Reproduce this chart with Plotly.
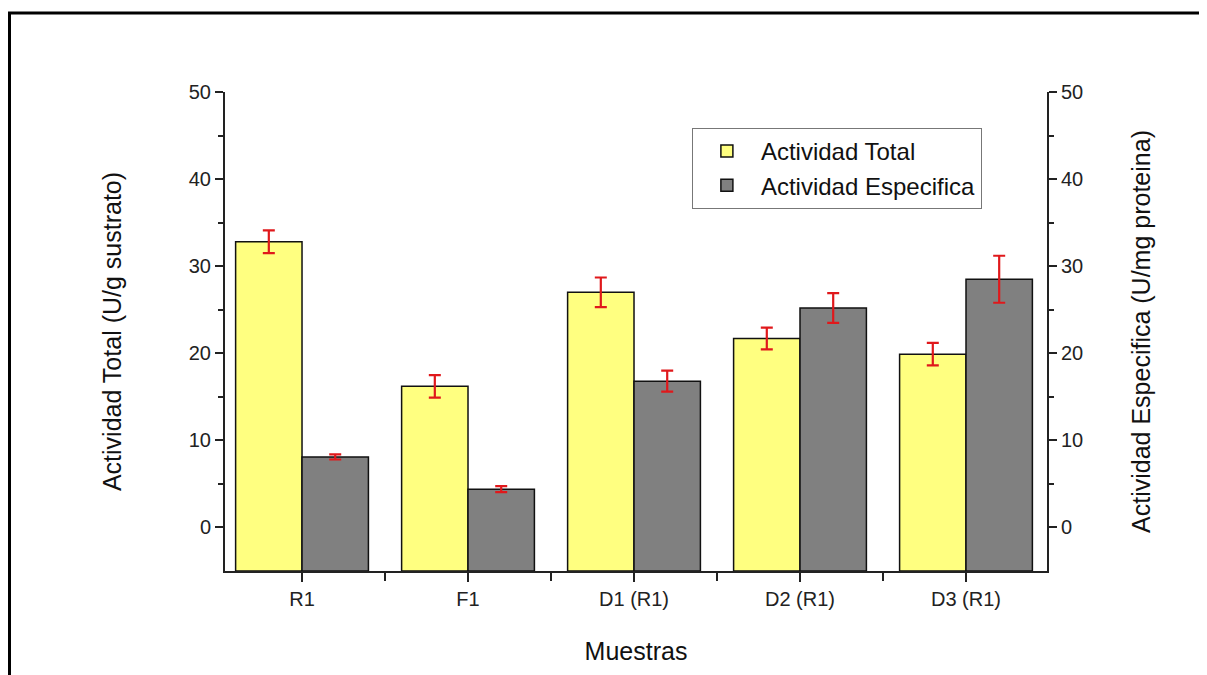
import plotly.graph_objects as go

categories = ["R1", "F1", "D1 (R1)", "D2 (R1)", "D3 (R1)"]
actividad_total = [32.8, 16.2, 27.0, 21.7, 19.9]
error_total = [1.3, 1.3, 1.7, 1.25, 1.3]
actividad_especifica = [8.1, 4.4, 16.8, 25.2, 28.5]
error_especifica = [0.3, 0.35, 1.2, 1.7, 2.7]
y_ticks = [0, 10, 20, 30, 40, 50]

Y_MIN, Y_MAX = -5, 50
xpos = list(range(len(categories)))
FONT = "Liberation Sans, Arial, sans-serif"
AXIS_COLOR = "#222222"

# page body has an 8px margin; size the figure to fit the window
W, H = 1199, 667
L, T, PW, PH = 217, 84, 822, 479

fig = go.Figure()
fig.add_trace(go.Bar(
    name="Actividad Total", x=xpos,
    y=[v - Y_MIN for v in actividad_total], base=Y_MIN,
    marker=dict(color="#FFFF80", line=dict(color="#111111", width=1.5)),
    error_y=dict(type="data", array=error_total, color="#E0181B", thickness=2.2, width=6),
    offsetgroup="a", yaxis="y",
))
fig.add_trace(go.Bar(
    name="Actividad Especifica", x=xpos,
    y=[v - Y_MIN for v in actividad_especifica], base=Y_MIN,
    marker=dict(color="#808080", line=dict(color="#111111", width=1.5)),
    error_y=dict(type="data", array=error_especifica, color="#E0181B", thickness=2.2, width=6),
    offsetgroup="b", yaxis="y2",
))

yaxis_common = dict(
    range=[Y_MIN, Y_MAX], tickvals=y_ticks, showgrid=False, zeroline=False,
    showline=True, linecolor=AXIS_COLOR, linewidth=2,
    ticks="outside", ticklen=8, tickwidth=2, tickcolor=AXIS_COLOR,
    minor=dict(tickvals=[5, 15, 25, 35, 45], ticks="outside", ticklen=5,
               tickwidth=2, tickcolor=AXIS_COLOR),
    tickfont=dict(family=FONT, size=20, color="#222222"),
)

fig.update_layout(
    width=W, height=H,
    paper_bgcolor="white", plot_bgcolor="white",
    margin=dict(l=L, r=W - L - PW, t=T, b=H - T - PH),
    barmode="group", bargap=0.2, bargroupgap=0,
    showlegend=True,
    legend=dict(
        x=0.568, y=0.925, xanchor="left", yanchor="top",
        bgcolor="white", bordercolor="#777777", borderwidth=1,
        font=dict(family=FONT, size=24, color="#111111"),
        itemwidth=58, tracegroupgap=0,
    ),
    xaxis=dict(
        range=[-0.464, 4.488], tickvals=xpos, ticktext=categories,
        showgrid=False, zeroline=False,
        showline=True, linecolor=AXIS_COLOR, linewidth=2,
        ticks="outside", ticklen=9, tickwidth=2, tickcolor=AXIS_COLOR,
        minor=dict(tickvals=[x + 0.5 for x in xpos[:-1]], ticks="outside",
                   ticklen=8, tickwidth=2, tickcolor=AXIS_COLOR),
        tickfont=dict(family=FONT, size=20, color="#222222"),
        title=dict(text="Muestras", font=dict(family=FONT, size=25, color="#111111"),
                   standoff=33),
    ),
    yaxis=dict(
        **yaxis_common,
        title=dict(text="Actividad Total (U/g sustrato)",
                   font=dict(family=FONT, size=25, color="#111111"), standoff=60),
    ),
    yaxis2=dict(
        **yaxis_common, overlaying="y", side="right",
        title=dict(text="Actividad Especifica (U/mg proteina)",
                   font=dict(family=FONT, size=25, color="#111111"), standoff=50),
    ),
    shapes=[dict(
        type="rect", xref="paper", yref="paper",
        x0=(1.5 - L) / PW, x1=(W + 20 - L) / PW,
        y0=(T + PH - (H + 20)) / PH, y1=(T + PH - 5) / PH,
        line=dict(color="black", width=3), fillcolor="rgba(0,0,0,0)", layer="below",
    )],
)

fig.write_html("out.html")
